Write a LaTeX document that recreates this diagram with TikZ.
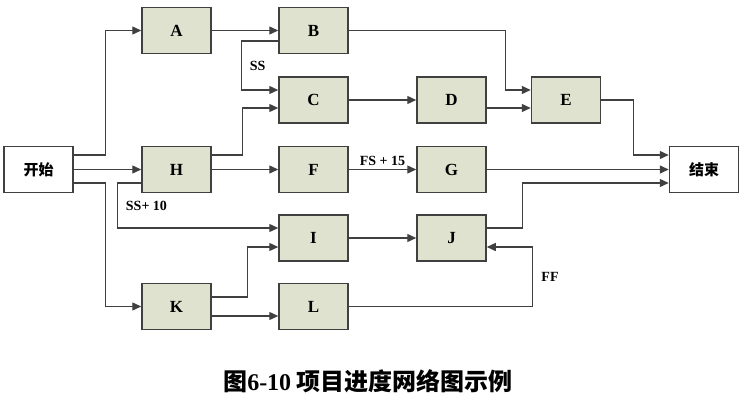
\documentclass[tikz,border=0pt]{standalone}
\usepackage{fontspec}
\setmainfont{Liberation Serif}
\newfontfamily\cjk{Noto Sans CJK SC}
\usetikzlibrary{arrows.meta, calc}
\definecolor{netfill}{RGB}{222,226,206}
\definecolor{netline}{RGB}{64,64,64}
\tikzset{
  %% ---- boxes ----
  task/.style     = {rectangle, draw=netline, line width=1.5pt,
                     fill=netfill, minimum width=69pt, minimum height=46pt,
                     font=\fontsize{17}{19}\selectfont\bfseries},
  terminal/.style = {task, fill=white,
                     font=\cjk\fontsize{15}{17}\selectfont\bfseries},
  %% ---- arrows ----
  arrow/.style    = {-{Triangle[length=9pt,width=8pt]}, line width=1.4pt,
                     color=netline},
  lag/.style      = {font=\fontsize{14}{16}\selectfont\bfseries, text=black,
                     inner sep=2pt},
}
\begin{document}
\begin{tikzpicture}[x=1pt, y=-1pt]
  \useasboundingbox (0,0) rectangle (745,409);

  %% start / end
  \node[terminal] (start) at (38.5,169.5) {开始};
  \node[terminal] (end)   at (704,169.5)  {结束};

  %% activities
  \node[task] (A) at (176.5,30.5)  {A};
  \node[task] (B) at (313.5,30.5)  {B};
  \node[task] (C) at (313.5,100)   {C};
  \node[task] (D) at (451.5,100)   {D};
  \node[task] (E) at (566,100)     {E};
  \node[task] (H) at (176.5,169.5) {H};
  \node[task] (F) at (313.5,169.5) {F};
  \node[task] (G) at (451.5,169.5) {G};
  \node[task] (I) at (313.5,238)   {I};
  \node[task] (J) at (451.5,238)   {J};
  \node[task] (K) at (176.5,306.5) {K};
  \node[task] (L) at (313.5,306.5) {L};

  %% arrows from start
  \draw[arrow] ([yshift=14.5pt]start.east) -- ++(32,0) |- (A.west);
  \draw[arrow] (start.east) -- (H.west);
  \draw[arrow] ([yshift=-13.5pt]start.east) -- ++(32,0) |- (K.west);

  %% upper chain
  \draw[arrow] (A.east) -- (B.west);
  \draw[arrow] ([yshift=-10.5pt]B.west) -- ++(-37,0)
    |- node[lag, pos=0.25, right=6pt] {SS} ([yshift=10pt]C.west);
  \draw[arrow] ([yshift=14.5pt]H.east) -- ++(31,0) |- ([yshift=-8pt]C.west);
  \draw[arrow] (C.east) -- (D.west);
  \draw[arrow] (B.east) -- ++(157,0) |- ([yshift=10pt]E.west);
  \draw[arrow] ([yshift=-8pt]D.east) -- ([yshift=-8pt]E.west);
  \draw[arrow] (E.east) -- ++(32,0) |- ([yshift=14.5pt]end.west);

  %% middle chain
  \draw[arrow] (H.east) -- (F.west);
  \draw[arrow] (F.east) -- node[lag, above=1pt] {FS + 15} (G.west);
  \draw[arrow] (G.east) -- (end.west);

  %% lower chain
  \draw[arrow] ([yshift=-13.5pt]H.west) -- ++(-24,0)
    |- node[lag, pos=0.25, right=6pt] {SS+ 10} ([yshift=10pt]I.west);
  \draw[arrow] (I.east) -- (J.west);
  \draw[arrow] ([yshift=10pt]J.east) -- ++(36,0) |- ([yshift=-13.5pt]end.west);
  \draw[arrow] ([yshift=9.5pt]K.east) -- ++(36,0) |- ([yshift=-9pt]I.west);
  \draw[arrow] ([yshift=-9.5pt]K.east) -- ([yshift=-9.5pt]L.west);
  \draw[arrow] (L.east) -- ++(184,0)
    |- node[lag, pos=0.25, right=6pt] {FF} ([yshift=-9pt]J.east);

  %% caption
  \node[font=\cjk\fontsize{24}{27}\selectfont\bfseries] (caption) at (368,381)
    {图{\rmfamily 6-10}\ 项目进度网络图示例};

\end{tikzpicture}
\end{document}
